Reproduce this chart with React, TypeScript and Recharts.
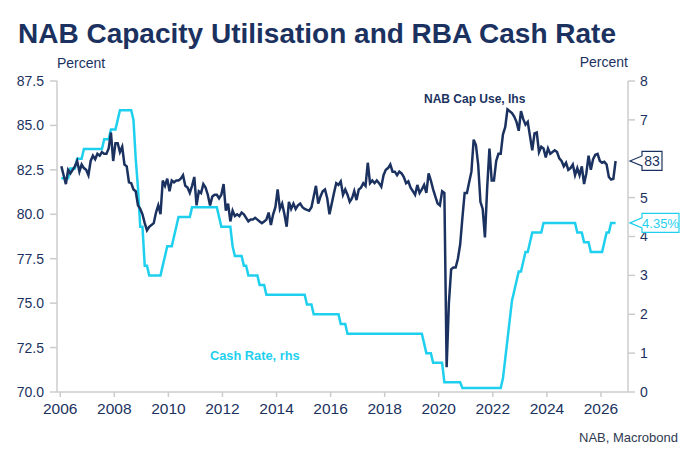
import { LineChart, Line, XAxis, YAxis } from 'recharts';

// monthly, Jan 2006 .. Jul 2026
const START_YEAR = 2006;

const capUse = [
  82.7, 82.2, 81.7, 82.5, 82.3, 82.5, 82.7, 83.0, 82.4, 82.8, 82.6, 82.5, // 2006
  82.2, 83.0, 83.3, 83.1, 83.4, 83.3, 83.5, 83.4, 83.4, 83.7, 84.6, 83.0, // 2007
  84.0, 84.0, 83.5, 83.8, 82.8, 82.7, 81.8, 81.75, 81.4, 81.3, 80.5, 80.3, // 2008
  80.0, 79.5, 79.1, 79.3, 79.4, 79.5, 80.1, 80.5, 80.0, 81.9, 81.6, 82.0, // 2009
  81.3, 81.9, 81.8, 81.9, 81.9, 82.0, 82.2, 81.6, 81.5, 81.2, 81.6, 82.1, // 2010
  80.5, 81.3, 81.2, 81.7, 81.5, 81.1, 80.5, 81.0, 81.1, 81.1, 80.9, 81.1, // 2011
  81.7, 80.2, 80.6, 79.6, 80.2, 79.9, 80.0, 79.9, 80.1, 80.0, 79.8, 79.6, // 2012
  79.7, 79.7, 79.8, 79.7, 79.6, 79.5, 79.6, 79.7, 80.1, 79.4, 80.0, 80.4, // 2013
  81.4, 80.3, 80.6, 80.0, 79.3, 80.7, 80.3, 80.6, 80.3, 80.5, 80.6, 80.4, // 2014
  80.3, 80.25, 80.2, 80.4, 81.0, 81.6, 80.6, 81.0, 81.3, 81.4, 80.9, 80.0, // 2015
  80.6, 81.2, 81.75, 81.65, 81.85, 81.1, 81.4, 81.1, 80.7, 80.9, 81.3, 80.8, // 2016
  81.4, 81.5, 81.75, 81.6, 82.9, 81.75, 81.9, 81.75, 81.9, 81.75, 81.55, 82.2, // 2017
  82.5, 82.6, 82.8, 82.4, 82.4, 82.2, 82.4, 82.3, 82.1, 81.75, 81.85, 81.5, // 2018
  81.3, 81.1, 81.65, 81.2, 81.4, 81.65, 81.2, 82.3, 81.9, 81.4, 81.0, 80.6, // 2019
  80.5, 81.3, 81.2, 71.4, 75.0, 76.9, 77.0, 77.0, 77.5, 78.3, 79.8, 81.2, // 2020
  81.2, 81.8, 82.4, 84.2, 83.9, 82.8, 80.7, 80.3, 78.7, 81.5, 83.7, 81.9, // 2021
  81.9, 83.0, 83.4, 83.4, 84.5, 84.9, 85.9, 85.8, 85.7, 85.5, 85.2, 84.7, // 2022
  85.8, 85.35, 85.05, 85.2, 84.4, 83.6, 84.55, 84.6, 83.5, 83.8, 83.7, 83.2, // 2023
  83.7, 83.4, 83.5, 83.6, 83.5, 83.15, 83.0, 82.7, 82.9, 82.5, 82.6, 82.8, // 2024
  82.2, 82.6, 82.2, 82.7, 81.7, 82.3, 83.3, 82.5, 83.1, 83.35, 83.4, 83.0, // 2025
  82.9, 82.95, 82.8, 82.1, 81.95, 82.0, 83.0, // 2026
];

const cashRate = [
  5.5, 5.5, 5.5, 5.5, 5.75, 5.75, 5.75, 6.0, 6.0, 6.0, 6.25, 6.25, // 2006
  6.25, 6.25, 6.25, 6.25, 6.25, 6.25, 6.25, 6.5, 6.5, 6.5, 6.75, 6.75, // 2007
  6.75, 7.0, 7.25, 7.25, 7.25, 7.25, 7.25, 7.25, 7.0, 6.0, 5.25, 4.25, // 2008
  4.25, 3.25, 3.25, 3.0, 3.0, 3.0, 3.0, 3.0, 3.0, 3.25, 3.5, 3.75, // 2009
  3.75, 3.75, 4.0, 4.25, 4.5, 4.5, 4.5, 4.5, 4.5, 4.5, 4.75, 4.75, // 2010
  4.75, 4.75, 4.75, 4.75, 4.75, 4.75, 4.75, 4.75, 4.75, 4.75, 4.5, 4.25, // 2011
  4.25, 4.25, 4.25, 4.25, 3.75, 3.5, 3.5, 3.5, 3.5, 3.25, 3.25, 3.0, // 2012
  3.0, 3.0, 3.0, 3.0, 2.75, 2.75, 2.75, 2.5, 2.5, 2.5, 2.5, 2.5, // 2013
  2.5, 2.5, 2.5, 2.5, 2.5, 2.5, 2.5, 2.5, 2.5, 2.5, 2.5, 2.5, // 2014
  2.5, 2.25, 2.25, 2.25, 2.0, 2.0, 2.0, 2.0, 2.0, 2.0, 2.0, 2.0, // 2015
  2.0, 2.0, 2.0, 2.0, 1.75, 1.75, 1.75, 1.5, 1.5, 1.5, 1.5, 1.5, // 2016
  1.5, 1.5, 1.5, 1.5, 1.5, 1.5, 1.5, 1.5, 1.5, 1.5, 1.5, 1.5, // 2017
  1.5, 1.5, 1.5, 1.5, 1.5, 1.5, 1.5, 1.5, 1.5, 1.5, 1.5, 1.5, // 2018
  1.5, 1.5, 1.5, 1.5, 1.5, 1.25, 1.0, 1.0, 1.0, 0.75, 0.75, 0.75, // 2019
  0.75, 0.75, 0.25, 0.25, 0.25, 0.25, 0.25, 0.25, 0.25, 0.25, 0.1, 0.1, // 2020
  0.1, 0.1, 0.1, 0.1, 0.1, 0.1, 0.1, 0.1, 0.1, 0.1, 0.1, 0.1, // 2021
  0.1, 0.1, 0.1, 0.1, 0.35, 0.85, 1.35, 1.85, 2.35, 2.6, 2.85, 3.1, // 2022
  3.1, 3.35, 3.6, 3.6, 3.85, 4.1, 4.1, 4.1, 4.1, 4.1, 4.35, 4.35, // 2023
  4.35, 4.35, 4.35, 4.35, 4.35, 4.35, 4.35, 4.35, 4.35, 4.35, 4.35, 4.35, // 2024
  4.35, 4.1, 4.1, 4.1, 3.85, 3.85, 3.85, 3.6, 3.6, 3.6, 3.6, 3.6, // 2025
  3.6, 3.85, 4.1, 4.1, 4.35, 4.35, 4.35, // 2026
];

const yearTicks = [2006, 2008, 2010, 2012, 2014, 2016, 2018, 2020, 2022, 2024, 2026];
const lhsTicks = [70, 72.5, 75, 77.5, 80, 82.5, 85, 87.5];
// the "6" sits behind the end tag in the original
const rhsTicks = [0, 1, 2, 3, 4, 5, 7, 8];

const data = capUse.map((v, i) => ({
  t: START_YEAR + (i + 0.5) / 12,
  cap: v,
  cash: cashRate[i],
}));

const NAVY = '#1b3260';
const CYAN = '#1fd0ee';
const GRID = '#cccccc';
const FONT = '"Liberation Sans", Arial, sans-serif';
const PLOT_RIGHT = 628;
const LAST = data.length - 1;

function tag(color: string, fmt: (v: number) => string, boxW: number, fs: number) {
  return (props: any) => {
    if (props.index !== LAST) return null;
    const y = props.y;
    const x0 = PLOT_RIGHT + 2;
    const bx = x0 + 12;
    const h = 9.5;
    const d = `M${x0},${y} L${bx},${y - 5} L${bx},${y - h} L${bx + boxW},${y - h} L${bx + boxW},${y + h} L${bx},${y + h} L${bx},${y + 5} Z`;
    return (
      <g>
        <path d={d} fill="#fff" stroke={color} strokeWidth={1.2} />
        <text x={bx + boxW / 2} y={y + fs * 0.36} textAnchor="middle" fontSize={fs} fill={color} fontFamily={FONT}>
          {fmt(props.value)}
        </text>
      </g>
    );
  };
}

export default function App() {
  return (
    <div style={{ position: 'absolute', left: 0, top: 0, width: 700, height: 466, background: '#fff', fontFamily: FONT }}>
      <LineChart width={700} height={466} data={data} margin={{ top: 81, right: 0, bottom: 40, left: 0 }}>
        <XAxis
          dataKey="t"
          type="number"
          domain={[2005.88, 2027]}
          ticks={yearTicks}
          interval={0}
          height={34}
          tickSize={5}
          tickMargin={6}
          stroke={GRID}
          strokeWidth={1.5}
          tick={{ fill: NAVY, fontSize: 15.5, fontFamily: FONT }}
          allowDataOverflow
        />
        <YAxis
          yAxisId="l"
          width={57}
          domain={[70, 87.5]}
          ticks={lhsTicks}
          interval={0}
          tickFormatter={(v: number) => v.toFixed(1)}
          tickSize={7}
          tickMargin={6}
          stroke={GRID}
          strokeWidth={1.5}
          tick={{ fill: NAVY, fontSize: 14, fontFamily: FONT }}
        />
        <YAxis
          yAxisId="r"
          orientation="right"
          width={72}
          domain={[0, 8]}
          ticks={rhsTicks}
          interval={0}
          tickSize={7}
          tickMargin={5}
          stroke={GRID}
          strokeWidth={1.5}
          tick={{ fill: NAVY, fontSize: 14, fontFamily: FONT }}
        />
        <Line
          yAxisId="r"
          dataKey="cash"
          stroke={CYAN}
          strokeWidth={2.5}
          dot={false}
          isAnimationActive={false}
          label={tag(CYAN, (v) => `${v.toFixed(2)}%`, 37, 13)}
        />
        <Line
          yAxisId="l"
          dataKey="cap"
          stroke={NAVY}
          strokeWidth={2.5}
          dot={false}
          isAnimationActive={false}
          label={tag(NAVY, (v) => `${Math.round(v)}`, 20, 14)}
        />
      </LineChart>
      <svg width={700} height={466} style={{ position: 'absolute', left: 0, top: 0, pointerEvents: 'none' }} fontFamily={FONT}>
        <text x={18} y={43} fontSize={28} fontWeight="bold" fill={NAVY}>
          NAB Capacity Utilisation and RBA Cash Rate
        </text>
        <text x={57} y={67.5} fontSize={14} fill={NAVY}>Percent</text>
        <text x={628} y={67} fontSize={14} fill={NAVY} textAnchor="end">Percent</text>
        <text x={424} y={102.5} fontSize={12} fontWeight="bold" fill={NAVY}>NAB Cap Use, lhs</text>
        <text x={210} y={359.5} fontSize={12.8} fontWeight="bold" fill={CYAN}>Cash Rate, rhs</text>
        <text x={678} y={442} fontSize={13} fill="#2f3a52" textAnchor="end">NAB, Macrobond</text>
      </svg>
    </div>
  );
}
